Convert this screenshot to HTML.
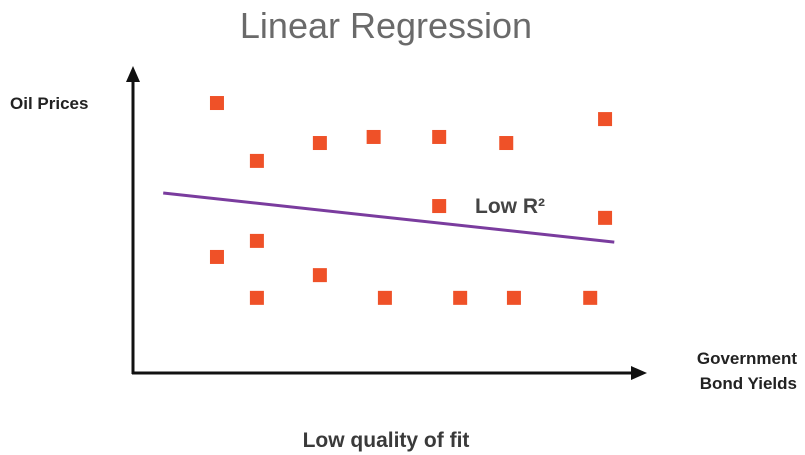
<!DOCTYPE html>
<html><head><meta charset="utf-8"><style>
body{margin:0;background:#fff;width:805px;height:455px;overflow:hidden;font-family:"Liberation Sans",sans-serif}
svg{display:block}
</style></head><body>
<svg id="chart" width="805" height="455">
<text x="386" y="38" text-anchor="middle" font-size="36" fill="#6a6a6a" font-weight="300">Linear Regression</text>
<text x="10" y="109" font-size="17" font-weight="bold" fill="#222">Oil Prices</text>
<text x="797" y="364" text-anchor="end" font-size="17" font-weight="bold" fill="#222">Government</text>
<text x="797" y="389" text-anchor="end" font-size="17" font-weight="bold" fill="#222">Bond Yields</text>
<text x="386" y="447" text-anchor="middle" font-size="21" fill="#3a3a3a" font-weight="600">Low quality of fit</text>
<line x1="133" y1="374" x2="133" y2="80" stroke="#111" stroke-width="3"/>
<polygon points="133,66 126,82 140,82" fill="#111"/>
<line x1="132" y1="373" x2="632" y2="373" stroke="#111" stroke-width="3"/>
<polygon points="647,373 631,366 631,380" fill="#111"/>
<g id="marks"></g>
<text x="475" y="213" font-size="21" font-weight="600" fill="#444">Low R²</text>
</svg>
<script>
const xValues=[1.64,2.42,3.65,4.70,5.98,7.29,9.22,5.98,9.22,1.64,2.42,3.65,2.42,4.92,6.39,7.44,8.93];
const yValues=[8.91,7.00,7.59,7.79,7.79,7.59,8.38,5.51,5.12,3.83,4.36,3.23,2.48,2.48,2.48,2.48,2.48];
const lineX=[0.59,9.40];
const lineY=[5.94,4.32];
const xScale=v=>133+v*51.2;
const yScale=v=>373-v*30.3;
const NS="http://www.w3.org/2000/svg";
const g=document.getElementById('marks');
const ln=document.createElementNS(NS,'line');
ln.setAttribute('x1',xScale(lineX[0]));ln.setAttribute('y1',yScale(lineY[0]));
ln.setAttribute('x2',xScale(lineX[1]));ln.setAttribute('y2',yScale(lineY[1]));
ln.setAttribute('stroke','#7a3c9e');ln.setAttribute('stroke-width','3');


g.appendChild(ln);
xValues.forEach((x,i)=>{
 const r=document.createElementNS(NS,'rect');
 r.setAttribute('x',xScale(x)-7);r.setAttribute('y',yScale(yValues[i])-7);
 r.setAttribute('width',14);r.setAttribute('height',14);r.setAttribute('fill','#ef5128');
 
 
 g.appendChild(r);
});
</script>
</body></html>
